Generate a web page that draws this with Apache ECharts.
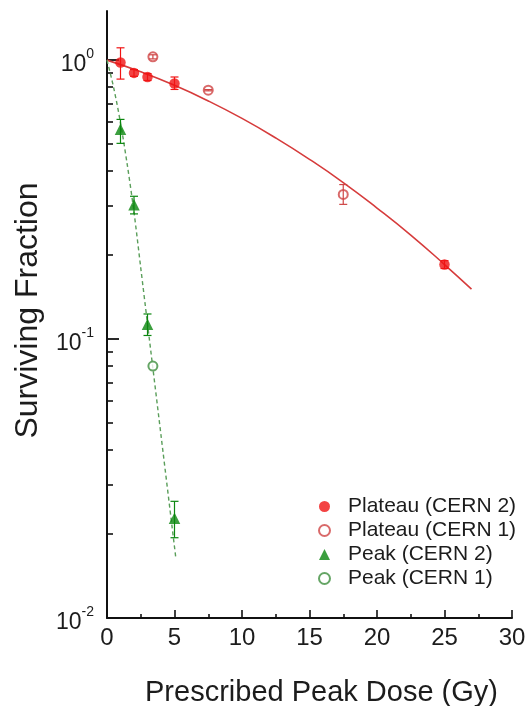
<!DOCTYPE html>
<html>
<head>
<meta charset="utf-8">
<script src="https://cdn.jsdelivr.net/npm/echarts@6/dist/echarts.min.js"></script>
<style>
  html, body { margin: 0; padding: 0; background: #fff; }
  #chart { width: 528px; height: 706px; }
</style>
</head>
<body>
<div id="chart"></div>
<script>
const FONT = '"Liberation Sans", Arial, sans-serif';

// Measured survival: [dose (Gy), surviving fraction]
const plateauCern2 = [[1, 0.98], [2, 0.90], [3, 0.87], [5, 0.825], [25, 0.185]];
const plateauCern1 = [[3.4, 1.028], [7.5, 0.78], [17.5, 0.33]];
const peakCern2 = [[1, 0.565], [2, 0.303], [3, 0.113], [5, 0.0228]];
const peakCern1 = [[3.4, 0.080]];

// Error bars: [dose, lower, upper]
const plateauCern2Err = [[1, 0.855, 1.107], [2, 0.875, 0.925], [3, 0.845, 0.895], [5, 0.785, 0.87], [25, 0.179, 0.191]];
const plateauCern1Err = [[3.4, 1.01, 1.045], [7.5, 0.776, 0.784], [17.5, 0.304, 0.358]];
const peakCern2Err = [[1, 0.503, 0.613], [2, 0.281, 0.325], [3, 0.103, 0.123], [5, 0.0194, 0.0262]];

// Fitted survival curves
const plateauFit = [[0, 1.0], [2.5, 0.908], [5, 0.812], [7.5, 0.714], [10, 0.618], [12.5, 0.526],
  [15, 0.441], [17.5, 0.364], [20, 0.295], [22.5, 0.236], [25, 0.185], [27, 0.151]];
const peakFit = [[0, 1.0], [0.5, 0.794], [1, 0.596], [1.5, 0.422], [2, 0.285], [2.5, 0.18],
  [3, 0.1135], [4, 0.0452], [5.1, 0.0164]];

// Axis ticks
const xTicks = [0, 5, 10, 15, 20, 25, 30];
const yMin = 0.01;
const yMax = 1.5;
const yMajorTicks = [0.01, 0.1, 1];
const yTickExponents = ['-2', '-1', '0'];
const yMinorTicks = [0.02, 0.03, 0.04, 0.05, 0.06, 0.07, 0.08, 0.09,
  0.2, 0.3, 0.4, 0.5, 0.6, 0.7, 0.8, 0.9];

const legendNames = ['Plateau (CERN 2)', 'Plateau (CERN 1)', 'Peak (CERN 2)', 'Peak (CERN 1)'];

const RED = '#f01414';
const RED_OPEN = '#cf4545';
const RED_LINE = '#d63c3c';
const GREEN = '#0b870f';
const GREEN_OPEN = '#3f8f3f';
const GREEN_LINE = '#5a9e5a';
const INK = '#1c1c1c';

const gridBox = { left: 107, right: 16, top: 11, bottom: 88, containLabel: false, outerBoundsMode: 'none' };

// Helper axis (in log10 space) that only draws tick marks on the left edge
function tickAxis(gridIndex, values, length, width) {
  return {
    type: 'value',
    gridIndex: gridIndex,
    min: Math.log10(yMin),
    max: Math.log10(yMax),
    axisLine: { show: true, lineStyle: { color: 'rgba(0,0,0,0)' } },
    axisTick: {
      show: true, inside: true, length: length,
      customValues: values.map(Math.log10),
      lineStyle: { color: '#111', width: width }
    },
    axisLabel: { show: false },
    splitLine: { show: false }
  };
}

function hiddenX(gridIndex) {
  return { type: 'value', gridIndex: gridIndex, min: 0, max: 30, show: false };
}

function errorBars(name, data, color) {
  return {
    type: 'custom',
    name: name,
    data: data,
    z: 4,
    silent: true,
    encode: { x: 0, y: [1, 2] },
    renderItem: function (params, api) {
      const x = api.value(0);
      const lo = api.coord([x, api.value(1)]);
      const hi = api.coord([x, api.value(2)]);
      const cap = 4;
      const style = { stroke: color, lineWidth: 1.2, fill: null };
      return {
        type: 'group',
        children: [
          { type: 'line', shape: { x1: lo[0], y1: lo[1], x2: hi[0], y2: hi[1] }, style: style },
          { type: 'line', shape: { x1: lo[0] - cap, y1: lo[1], x2: lo[0] + cap, y2: lo[1] }, style: style },
          { type: 'line', shape: { x1: hi[0] - cap, y1: hi[1], x2: hi[0] + cap, y2: hi[1] }, style: style }
        ]
      };
    }
  };
}

const chart = echarts.init(document.getElementById('chart'), null, { renderer: 'canvas' });

chart.setOption({
  backgroundColor: '#fff',
  animation: false,
  grid: [
    Object.assign({}, gridBox),
    Object.assign({}, gridBox),
    Object.assign({}, gridBox)
  ],
  legend: {
    data: legendNames,
    orient: 'vertical',
    left: 313,
    top: 491,
    itemWidth: 11,
    itemHeight: 11,
    itemGap: 3,
    selectedMode: false,
    textStyle: { fontFamily: FONT, fontSize: 21, color: INK, lineHeight: 21, padding: [0, 0, 0, 13] }
  },
  xAxis: [
    {
      type: 'value',
      gridIndex: 0,
      min: 0,
      max: 30,
      interval: 5,
      name: 'Prescribed Peak Dose (Gy)',
      nameLocation: 'middle',
      nameGap: 60,
      nameTextStyle: { fontFamily: FONT, fontSize: 29, color: INK, padding: [0, 0, 0, 24] },
      axisLine: { show: true, lineStyle: { color: '#111', width: 2 } },
      axisTick: { show: true, inside: true, length: 8, lineStyle: { color: '#111', width: 1.6 } },
      minorTick: { show: true, splitNumber: 2, length: 4, lineStyle: { color: '#111', width: 1.6 } },
      axisLabel: {
        margin: 8,
        fontFamily: FONT, fontSize: 24, color: INK,
        customValues: xTicks
      },
      splitLine: { show: false }
    },
    hiddenX(1),
    hiddenX(2)
  ],
  yAxis: [
    {
      type: 'log',
      logBase: 10,
      gridIndex: 0,
      min: yMin,
      max: yMax,
      name: 'Surviving Fraction',
      nameLocation: 'middle',
      nameGap: 63,
      nameTextStyle: { fontFamily: FONT, fontSize: 32, color: INK, padding: [0, 0, 0, 8] },
      axisLine: { show: true, lineStyle: { color: '#111', width: 2 } },
      axisTick: { show: false },
      axisLabel: {
        margin: 13,
        customValues: yMajorTicks,
        padding: [10, 0, 0, 0],
        formatter: function (v) {
          const i = yMajorTicks.findIndex(t => Math.abs(t - v) / t < 1e-6);
          return '{b|10}{e|' + yTickExponents[i] + '}';
        },
        rich: {
          b: { fontFamily: FONT, fontSize: 23, color: INK, lineHeight: 36 },
          e: { fontFamily: FONT, fontSize: 14, color: INK, verticalAlign: 'top' }
        }
      },
      splitLine: { show: false },
      minorTick: { show: false }
    },
    tickAxis(1, yMajorTicks, 12, 1.8),
    tickAxis(2, yMinorTicks, 6, 1.6)
  ],
  series: [
    {
      type: 'line',
      name: 'Plateau fit',
      data: plateauFit,
      smooth: true,
      symbol: 'none',
      z: 2,
      lineStyle: { color: RED_LINE, width: 1.6 }
    },
    {
      type: 'line',
      name: 'Peak fit',
      data: peakFit,
      smooth: 0.3,
      symbol: 'none',
      z: 2,
      lineStyle: { color: GREEN_LINE, width: 1.4, type: [4, 3] }
    },
    {
      type: 'scatter',
      name: legendNames[0],
      data: plateauCern2,
      symbol: 'circle',
      symbolSize: 10.5,
      z: 3,
      itemStyle: { color: RED }
    },
    {
      type: 'scatter',
      name: legendNames[1],
      data: plateauCern1,
      symbol: 'emptyCircle',
      symbolSize: 9,
      z: 3,
      itemStyle: { color: RED_OPEN, borderWidth: 1.5 }
    },
    {
      type: 'scatter',
      name: legendNames[2],
      data: peakCern2,
      symbol: 'triangle',
      symbolSize: 11.5,
      z: 3,
      itemStyle: { color: GREEN }
    },
    {
      type: 'scatter',
      name: legendNames[3],
      data: peakCern1,
      symbol: 'emptyCircle',
      symbolSize: 9,
      z: 3,
      itemStyle: { color: GREEN_OPEN, borderWidth: 1.5 }
    },
    errorBars('Plateau (CERN 2) error', plateauCern2Err, RED),
    errorBars('Plateau (CERN 1) error', plateauCern1Err, RED_OPEN),
    errorBars('Peak (CERN 2) error', peakCern2Err, GREEN)
  ]
});
</script>
</body>
</html>
